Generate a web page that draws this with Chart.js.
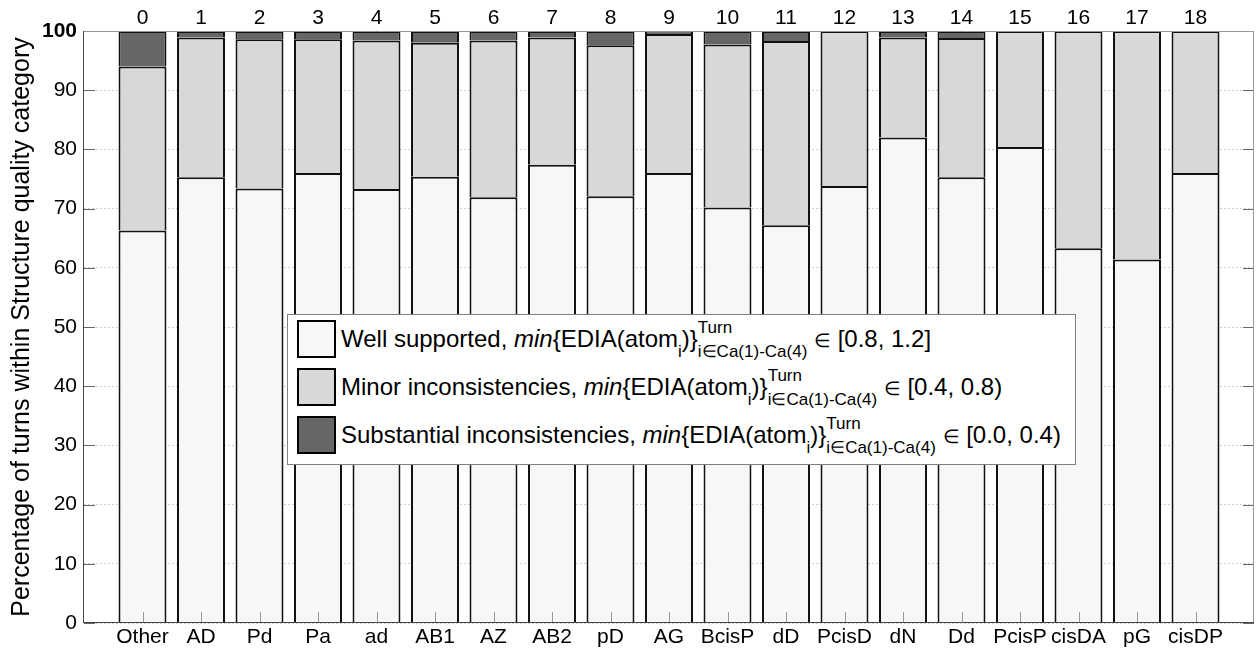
<!DOCTYPE html>
<html>
<head>
<meta charset="utf-8">
<title>Turn quality by turn type</title>
<script src="https://cdn.jsdelivr.net/npm/chart.js@4.4.1/dist/chart.umd.min.js"></script>
<style>
    body { margin: 0; background: #fff; }
    #wrap { position: relative; width: 1256px; height: 651px; }
    #canvas { position: absolute; left: 0; top: 0; display: block; }
    #legend {
        position: absolute; left: 287px; top: 314px; width: 789px; height: 151px;
        box-sizing: border-box; border: 1px solid #808080; background: #fff;
        font-family: "Liberation Sans", Arial, sans-serif; font-size: 24px; color: #000;
    }
    #legend .row { position: absolute; left: 9px; height: 38px; width: 770px; }
    #legend .swatch {
        position: absolute; left: 0; top: 0; width: 39px; height: 38px;
        box-sizing: border-box; border: 2px solid #000;
    }
    #legend .txt { position: absolute; left: 44px; top: 6.7px; line-height: 24px; white-space: nowrap; }
    #legend .lo { position: relative; top: 10px; font-size: 17px; }
    #legend .stack { display: inline-block; position: relative; font-size: 17px; line-height: 17px; }
    #legend .stack .hi { position: absolute; left: 0; top: -14px; }
    #legend .el { font-size: 19px; }
</style>
</head>
<body>
<div id="wrap">
    <canvas id="canvas" width="1256" height="651"></canvas>
    <div id="legend"></div>
</div>
<script>
var categories = ['Other', 'AD', 'Pd', 'Pa', 'ad', 'AB1', 'AZ', 'AB2', 'pD', 'AG', 'BcisP',
    'dD', 'PcisD', 'dN', 'Dd', 'PcisP', 'cisDA', 'pG', 'cisDP'];
var turnIds = ['0', '1', '2', '3', '4', '5', '6', '7', '8', '9', '10',
    '11', '12', '13', '14', '15', '16', '17', '18'];

/* percentages per turn type, stacked bottom to top */
var wellSupported = [66.3, 75.3, 73.4, 76.0, 73.3, 75.4, 71.9, 77.4, 72.1, 76.0, 70.2,
    67.2, 73.8, 82.0, 75.3, 80.4, 63.3, 61.4, 76.0];
var minorIncons = [27.7, 23.6, 25.2, 22.6, 25.1, 22.6, 26.5, 21.5, 25.5, 23.5, 27.5,
    31.1, 26.2, 16.9, 23.5, 19.6, 36.7, 38.6, 24.0];
var substantialIncons = [6.0, 1.1, 1.4, 1.4, 1.6, 2.0, 1.6, 1.1, 2.4, 0.5, 2.3,
    1.7, 0, 1.1, 1.2, 0, 0, 0, 0];

var seriesNames = ['Well supported', 'Minor inconsistencies', 'Substantial inconsistencies'];
var seriesColors = ['#f7f7f7', '#d8d8d8', '#666666'];
var rangeLabels = ['[0.8, 1.2]', '[0.4, 0.8)', '[0.0, 0.4)'];

Chart.defaults.font.family = '"Liberation Sans", Arial, sans-serif';
Chart.defaults.color = '#000';

function toPoints(values) {
    var pts = [];
    for (var i = 0; i < values.length; i++) {
        pts.push({ x: i, y: values[i] });
    }
    return pts;
}

function makeDataset(k, values) {
    return {
        label: seriesNames[k],
        data: toPoints(values),
        backgroundColor: seriesColors[k],
        borderColor: '#111',
        borderWidth: 2,
        barPercentage: 0.82,
        categoryPercentage: 1
    };
}

// inward ticks and the box round the plot
var axisFrame = {
    id: 'axisFrame',
    afterDatasetsDraw: function (chart) {
        var ctx = chart.ctx;
        var area = chart.chartArea;
        var xs = chart.scales.x;
        var ys = chart.scales.y;
        ctx.save();
        ctx.lineWidth = 1;

        ctx.strokeStyle = '#666';
        ctx.beginPath();
        ys.ticks.forEach(function (t) {
            var py = Math.round(ys.getPixelForValue(t.value)) + 0.5;
            ctx.moveTo(area.left, py);
            ctx.lineTo(area.left + 11, py);
            ctx.moveTo(area.right - 11, py);
            ctx.lineTo(area.right, py);
        });
        ctx.stroke();

        ctx.strokeStyle = '#999';
        ctx.beginPath();
        for (var i = 0; i < categories.length; i++) {
            var px = Math.round(xs.getPixelForValue(i)) + 0.5;
            ctx.moveTo(px, area.bottom);
            ctx.lineTo(px, area.bottom - 11);
        }
        ctx.stroke();

        ctx.strokeStyle = '#999';
        ctx.beginPath();
        ctx.moveTo(area.left, area.top + 0.5);
        ctx.lineTo(area.right, area.top + 0.5);
        ctx.moveTo(area.right - 0.5, area.top);
        ctx.lineTo(area.right - 0.5, area.bottom);
        ctx.stroke();

        ctx.strokeStyle = '#444';
        ctx.beginPath();
        ctx.moveTo(area.left - 0.5, area.top);
        ctx.lineTo(area.left - 0.5, area.bottom);
        ctx.moveTo(area.left, area.bottom - 0.5);
        ctx.lineTo(area.right, area.bottom - 0.5);
        ctx.stroke();
        ctx.restore();
    }
};

var ctx = document.getElementById('canvas').getContext('2d');

var chart = new Chart(ctx, {
    type: 'bar',
    data: {
        datasets: [
            makeDataset(0, wellSupported),
            makeDataset(1, minorIncons),
            makeDataset(2, substantialIncons)
        ]
    },
    options: {
        responsive: false,
        animation: false,
        layout: { padding: { top: 0, right: 1, bottom: 0, left: 0 } },
        plugins: {
            legend: { display: false },
            tooltip: { enabled: false }
        },
        scales: {
            x: {
                type: 'linear',
                position: 'bottom',
                min: -1,
                max: 19,
                stacked: true,
                offset: false,
                grid: { display: false, drawTicks: false },
                border: { display: false },
                ticks: {
                    stepSize: 1,
                    autoSkip: false,
                    maxRotation: 0,
                    padding: 2,
                    font: { size: 21 },
                    callback: function (v) { return categories[v] || ''; }
                },
                afterFit: function (s) { s.height = 28; }
            },
            xTop: {
                type: 'linear',
                position: 'top',
                min: -1,
                max: 19,
                offset: false,
                grid: { display: false, drawTicks: false },
                border: { display: false },
                ticks: {
                    stepSize: 1,
                    autoSkip: false,
                    maxRotation: 0,
                    padding: 0,
                    font: { size: 21 },
                    callback: function (v) { return turnIds[v] || ''; }
                },
                afterFit: function (s) { s.height = 31; }
            },
            y: {
                min: 0,
                max: 100,
                stacked: true,
                grid: { color: '#cfcfcf', drawTicks: false },
                border: { display: false, dash: [2, 2] },
                ticks: {
                    stepSize: 10,
                    padding: 7,
                    font: function (c) {
                        return (c.tick && c.tick.value === 100) ? { size: 21, weight: 'bold' } : { size: 21 };
                    }
                },
                title: {
                    display: true,
                    text: 'Percentage of turns within Structure quality category',
                    font: { size: 25 },
                    padding: { top: 7, bottom: 0 }
                },
                afterFit: function (s) { s.width = 84; }
            }
        }
    },
    plugins: [axisFrame]
});

/* legend with the EDIA formula, one row per dataset */
function buildLegend(c) {
    var box = document.getElementById('legend');
    c.data.datasets.forEach(function (ds, i) {
        var row = document.createElement('div');
        row.className = 'row';
        row.style.top = (5 + i * 48) + 'px';
        row.innerHTML = '<span class="swatch" style="background:' + ds.backgroundColor + '"></span>' +
            '<span class="txt">' + ds.label + ', <i>min</i>{EDIA(atom<span class="lo">i</span>)}' +
            '<span class="stack"><span class="hi">Turn</span><span class="lo">i\u2208Ca(1)-Ca(4)</span></span>' +
            ' <span class="el">\u2208</span> ' + rangeLabels[i] + '</span>';
        box.appendChild(row);
    });
}
buildLegend(chart);
</script>
</body>
</html>
